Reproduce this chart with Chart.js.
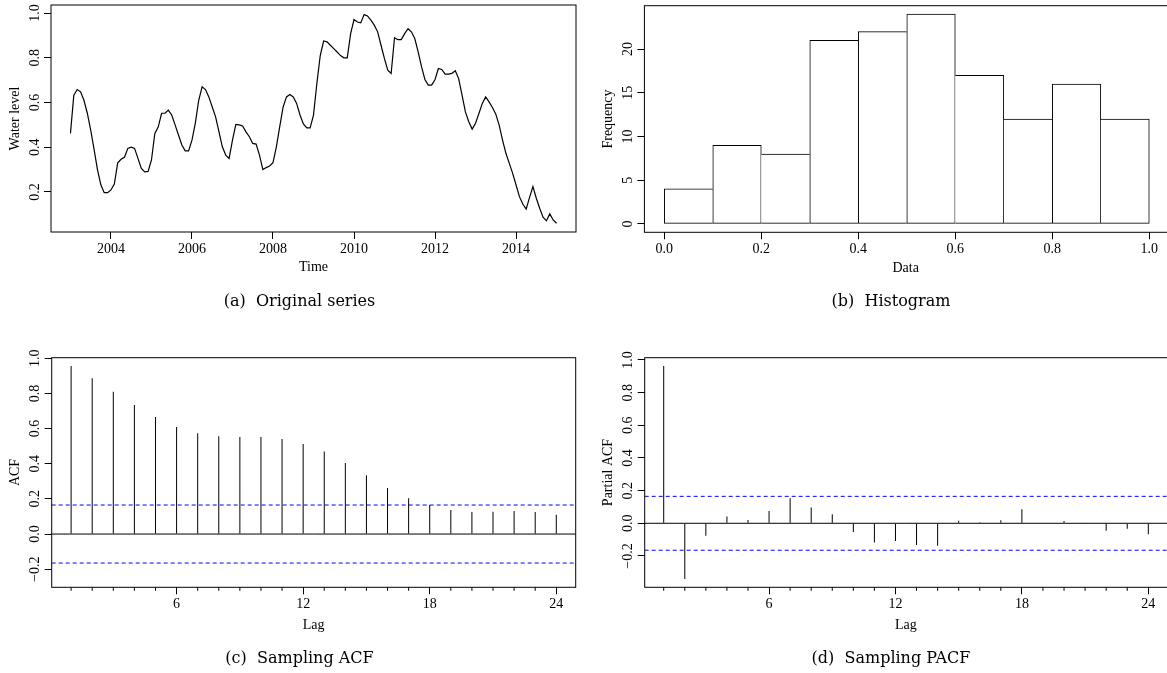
<!DOCTYPE html>
<html>
<head>
<meta charset="utf-8">
<script src="https://cdn.jsdelivr.net/npm/chart.js@4.4.1/dist/chart.umd.min.js"></script>
<style>
html,body{margin:0;padding:0;background:#fff;}
#wrap{position:relative;width:1167px;height:673px;overflow:hidden;background:#fff;}
#wrap canvas{position:absolute;left:0;top:0;}
.cap{position:absolute;width:320px;text-align:center;font-family:"DejaVu Serif",serif;font-size:16px;line-height:20px;color:#000;white-space:nowrap;}
</style>
</head>
<body>
<div id="wrap">
  <canvas id="cA" width="1167" height="673"></canvas>
  <canvas id="cB" width="1167" height="673"></canvas>
  <canvas id="cC" width="1167" height="673"></canvas>
  <canvas id="cD" width="1167" height="673"></canvas>
  <div class="cap" style="left:139.5px;top:291px">(a)&nbsp; Original series</div>
  <div class="cap" style="left:731px;top:291px">(b)&nbsp; Histogram</div>
  <div class="cap" style="left:139.5px;top:648px">(c)&nbsp; Sampling ACF</div>
  <div class="cap" style="left:731px;top:648px">(d)&nbsp; Sampling PACF</div>
</div>
<script>
// ---------------- DATA ----------------
const tsStartYear = 2003;
const tsMonthsPerYear = 12;
const waterLevel = [
  0.462, 0.633, 0.658, 0.648, 0.610, 0.552, 0.477, 0.390, 0.300, 0.232, 0.197, 0.197,
  0.209, 0.235, 0.330, 0.346, 0.355, 0.395, 0.400, 0.395, 0.350, 0.305, 0.290, 0.292,
  0.343, 0.462, 0.490, 0.552, 0.552, 0.566, 0.544, 0.500, 0.455, 0.410, 0.384, 0.384,
  0.432, 0.508, 0.610, 0.670, 0.658, 0.625, 0.580, 0.536, 0.469, 0.402, 0.365, 0.350,
  0.432, 0.502, 0.500, 0.495, 0.469, 0.447, 0.417, 0.414, 0.365, 0.300, 0.309, 0.316,
  0.331, 0.402, 0.492, 0.580, 0.625, 0.636, 0.625, 0.596, 0.544, 0.504, 0.487, 0.487,
  0.544, 0.686, 0.810, 0.875, 0.871, 0.856, 0.841, 0.826, 0.810, 0.800, 0.800, 0.908,
  0.971, 0.960, 0.956, 0.993, 0.987, 0.968, 0.946, 0.916, 0.856, 0.797, 0.745, 0.730,
  0.890, 0.881, 0.881, 0.908, 0.930, 0.916, 0.886, 0.826, 0.760, 0.703, 0.678, 0.678,
  0.703, 0.752, 0.748, 0.727, 0.727, 0.730, 0.742, 0.707, 0.633, 0.558, 0.514, 0.481,
  0.507, 0.551, 0.596, 0.625, 0.603, 0.578, 0.548, 0.499, 0.432, 0.373, 0.328, 0.283,
  0.231, 0.179, 0.146, 0.123, 0.176, 0.224, 0.172, 0.127, 0.087, 0.071, 0.102, 0.075,
  0.060
];
const tsXTicks = [2004, 2006, 2008, 2010, 2012, 2014];
const tsXTickLabels = ['2004', '2006', '2008', '2010', '2012', '2014'];
const tsYTicks = [0.2, 0.4, 0.6, 0.8, 1.0];
const tsYTickLabels = ['0.2', '0.4', '0.6', '0.8', '1.0'];

const histBinStarts = [0.0, 0.1, 0.2, 0.3, 0.4, 0.5, 0.6, 0.7, 0.8, 0.9];
const histBinWidth = 0.1;
const histCounts = [4, 9, 8, 21, 22, 24, 17, 12, 16, 12];
const histXTicks = [0.0, 0.2, 0.4, 0.6, 0.8, 1.0];
const histXTickLabels = ['0.0', '0.2', '0.4', '0.6', '0.8', '1.0'];
const histYTicks = [0, 5, 10, 15, 20];
const histYTickLabels = ['0', '5', '10', '15', '20'];

const lags = [1,2,3,4,5,6,7,8,9,10,11,12,13,14,15,16,17,18,19,20,21,22,23,24];
const acfValues = [0.956, 0.886, 0.810, 0.734, 0.666, 0.609, 0.573, 0.556, 0.552, 0.552, 0.541, 0.512,
                   0.469, 0.404, 0.334, 0.262, 0.203, 0.165, 0.137, 0.125, 0.127, 0.131, 0.125, 0.110];
const pacfValues = [0.963, -0.341, -0.076, 0.041, 0.020, 0.076, 0.153, 0.096, 0.055, -0.053, -0.118, -0.108,
                    -0.133, -0.137, 0.016, 0.006, 0.018, 0.086, 0.003, 0.014, -0.002, -0.045, -0.033, -0.067];
const confLimit = 0.165;
const lagTicks = [6, 12, 18, 24];
const lagTickLabels = ['6', '12', '18', '24'];
const acfYTicks = [-0.2, 0.0, 0.2, 0.4, 0.6, 0.8, 1.0];
const acfYTickLabels = ['\u22120.2', '0.0', '0.2', '0.4', '0.6', '0.8', '1.0'];

// ---------------- HELPERS ----------------
const FONT = '"Liberation Serif", "Times New Roman", serif';
const W = 1167, H = 673;
const Y_AXIS_W = 51;

function xScale(min, max, tickVals, tickLabels, title, height) {
  return {
    type: 'linear', min: min, max: max, bounds: 'data', offset: false,
    afterBuildTicks: s => { s.ticks = tickVals.map(v => ({ value: v })); },
    afterFit: s => { s.height = height; },
    ticks: { autoSkip: false, maxRotation: 0, minRotation: 0, padding: 2, color: '#000',
             font: { family: FONT, size: 14 }, callback: (v, i) => tickLabels[i] },
    grid: { display: true, drawOnChartArea: false, drawTicks: true, tickLength: 7,
            color: '#000', tickColor: '#000', lineWidth: 1, offset: false },
    border: { display: false },
    title: { display: true, text: title, color: '#000',
             font: { family: FONT, size: 14, lineHeight: 1.2 }, padding: { top: 0, bottom: 0 } }
  };
}
function yScale(min, max, tickVals, tickLabels, title) {
  return {
    type: 'linear', min: min, max: max, bounds: 'data',
    afterBuildTicks: s => { s.ticks = tickVals.map(v => ({ value: v })); },
    afterFit: s => { s.width = Y_AXIS_W; },
    ticks: { display: false, callback: (v, i) => tickLabels[i] },
    grid: { display: true, drawOnChartArea: false, drawTicks: true, tickLength: 7,
            color: '#000', tickColor: '#000', lineWidth: 1 },
    border: { display: false },
    title: { display: true, text: title, color: '#000',
             font: { family: FONT, size: 14, lineHeight: 1.2 }, padding: { top: 6.6, bottom: 0 } }
  };
}
function framePlugin(extraRight, yVals, yLabels, minorTicks) {
  return {
    id: 'frame',
    afterDraw(chart) {
      const ctx = chart.ctx, a = chart.chartArea;
      const xs = chart.scales.x, ys = chart.scales.y;
      ctx.save();
      ctx.strokeStyle = '#000';
      ctx.lineWidth = 1;
      ctx.strokeRect(a.left, a.top, a.right - a.left + extraRight, a.bottom - a.top);
      if (minorTicks) {
        ctx.beginPath();
        minorTicks.forEach(v => {
          const x = xs.getPixelForValue(v);
          ctx.moveTo(x, a.bottom);
          ctx.lineTo(x, a.bottom + 3.5);
        });
        ctx.stroke();
      }
      ctx.fillStyle = '#000';
      ctx.font = '14px ' + FONT;
      ctx.textAlign = 'center';
      ctx.textBaseline = 'middle';
      yVals.forEach((v, i) => {
        const y = ys.getPixelForValue(v);
        ctx.save();
        ctx.translate(a.left - 16, y);
        ctx.rotate(-Math.PI / 2);
        ctx.fillText(yLabels[i], 0, 0);
        ctx.restore();
      });
      ctx.restore();
    }
  };
}
function padFor(L, T, R, B, hx) {
  return { left: L - Y_AXIS_W, top: T, right: W - R, bottom: H - B - hx };
}
function baseOptions(padding, scales) {
  return {
    responsive: false, maintainAspectRatio: false, animation: false, events: [],
    devicePixelRatio: 1,
    layout: { padding: padding },
    plugins: { legend: { display: false }, tooltip: { enabled: false }, title: { display: false } },
    scales: scales
  };
}

// ---------------- (a) Original series ----------------
const tsMin = 2002.52, tsMax = 2015.48;
new Chart(document.getElementById('cA'), {
  type: 'line',
  data: {
    datasets: [{
      data: waterLevel.map((v, i) => ({ x: tsStartYear + i / tsMonthsPerYear, y: v })),
      borderColor: '#000', borderWidth: 1.2, pointRadius: 0, tension: 0, fill: false
    }]
  },
  options: baseOptions(padFor(51, 5, 576, 232, 44), {
    x: xScale(tsMin, tsMax, tsXTicks, tsXTickLabels, 'Time', 44),
    y: yScale(0.021, 1.036, tsYTicks, tsYTickLabels, 'Water level')
  }),
  plugins: [framePlugin(0, tsYTicks, tsYTickLabels, null)]
});

// ---------------- (b) Histogram ----------------
new Chart(document.getElementById('cB'), {
  type: 'bar',
  data: {
    datasets: [{
      data: histBinStarts.map((s, i) => ({ x: s + histBinWidth / 2, y: histCounts[i] })),
      backgroundColor: '#fff', borderColor: '#000', borderSkipped: false,
      barPercentage: 1, categoryPercentage: 1,
      borderWidth: ctx => {
        const i = ctx.dataIndex, c = histCounts;
        return { top: 1, bottom: 1,
                 left: (i === 0 || c[i] >= c[i - 1]) ? 1 : 0,
                 right: (i === c.length - 1 || c[i] > c[i + 1]) ? 1 : 0 };
      }
    }]
  },
  options: baseOptions(padFor(644.4, 5.7, 1167, 232.3, 44), {
    x: xScale(-0.041, 1.0365, histXTicks, histXTickLabels, 'Data', 44),
    y: yScale(-0.96, 24.96, histYTicks, histYTickLabels, 'Frequency')
  }),
  plugins: [framePlugin(4, histYTicks, histYTickLabels, null)]
});

// ---------------- (c) ACF / (d) PACF ----------------
function corrChart(id, values, L, R, xMin, xMax, yMin, yMax, title, extraRight) {
  const minor = lags.filter(l => lagTicks.indexOf(l) < 0);
  new Chart(document.getElementById(id), {
    type: 'bar',
    data: {
      datasets: [
        { type: 'bar', data: lags.map((l, i) => ({ x: l, y: values[i] })),
          backgroundColor: '#000', borderWidth: 0, barThickness: 1, inflateAmount: 0 },
        { type: 'line', data: [{ x: xMin, y: 0 }, { x: xMax, y: 0 }],
          borderColor: '#000', borderWidth: 1, pointRadius: 0 },
        { type: 'line', data: [{ x: xMin, y: confLimit }, { x: xMax, y: confLimit }],
          borderColor: '#0000ff', borderWidth: 1, borderDash: [4, 3], pointRadius: 0 },
        { type: 'line', data: [{ x: xMin, y: -confLimit }, { x: xMax, y: -confLimit }],
          borderColor: '#0000ff', borderWidth: 1, borderDash: [4, 3], pointRadius: 0 }
      ]
    },
    options: baseOptions(padFor(L, 357.7, R, 587.3, 46), {
      x: xScale(xMin, xMax, lagTicks, lagTickLabels, 'Lag', 46),
      y: yScale(yMin, yMax, acfYTicks, acfYTickLabels, title)
    }),
    plugins: [framePlugin(extraRight, acfYTicks, acfYTickLabels, minor)]
  });
}
corrChart('cC', acfValues, 51.7, 575.7, 0.08, 24.92, -0.303, 1.003, 'ACF', 0);
corrChart('cD', pacfValues, 644.7, 1167, 0.098, 24.887, -0.392, 1.014, 'Partial ACF', 4);
</script>
</body>
</html>
